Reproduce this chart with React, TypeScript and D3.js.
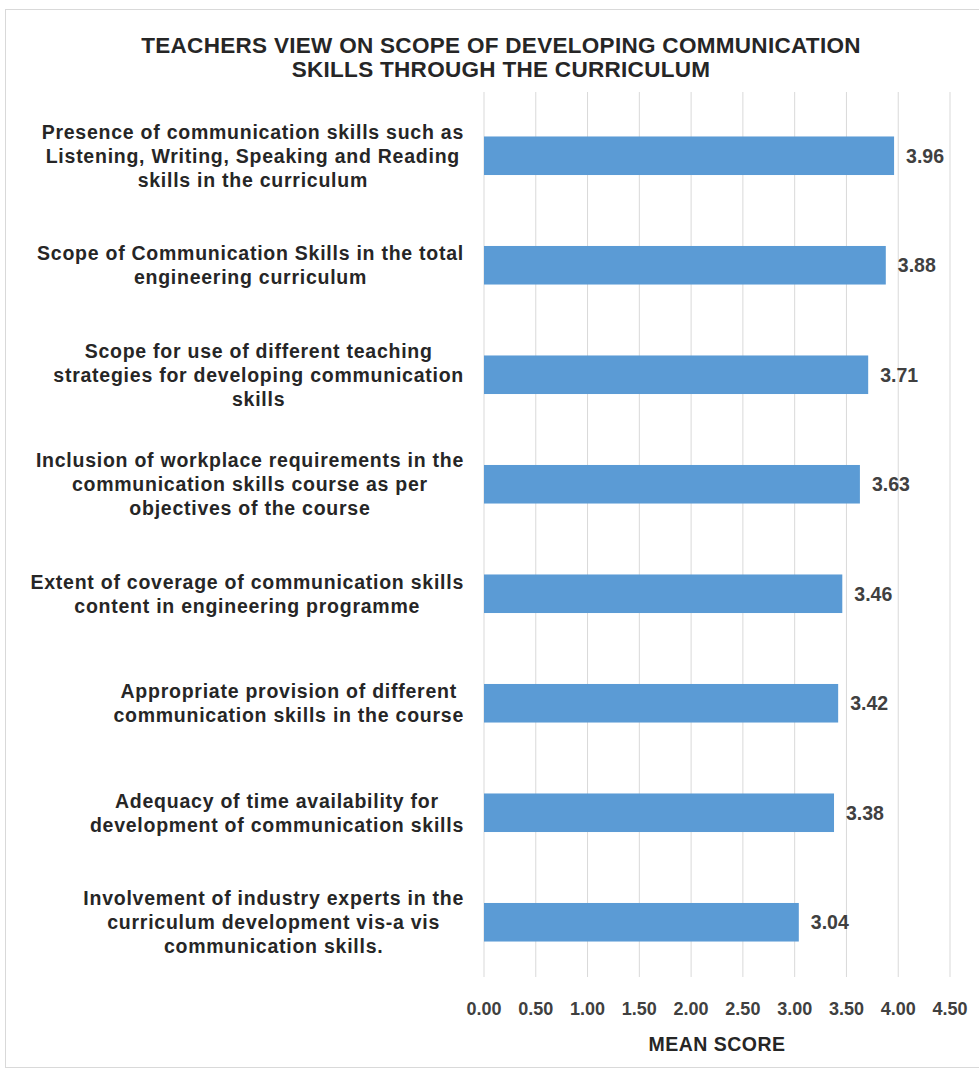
import { useEffect, useRef } from "react";
import * as d3 from "d3";

const W = 979;
const H = 1073;

const title = [
  "TEACHERS VIEW ON SCOPE OF DEVELOPING COMMUNICATION",
  "SKILLS THROUGH THE CURRICULUM",
];

// each category already split in the lines shown on the chart
const categories = [
  ["Presence of communication skills such as", "Listening, Writing, Speaking and Reading", "skills in the curriculum"],
  ["Scope of Communication Skills in the total", "engineering curriculum"],
  ["Scope for use of different teaching", "strategies for developing communication", "skills"],
  ["Inclusion of workplace requirements in the", "communication skills course as per", "objectives of the course"],
  ["Extent of coverage of communication skills", "content in engineering programme"],
  ["Appropriate provision of different", "communication skills in the course"],
  ["Adequacy of time availability for", "development of communication skills"],
  ["Involvement of industry experts in the", "curriculum development vis-a vis", "communication skills."],
];

const meanScores = [3.96, 3.88, 3.71, 3.63, 3.46, 3.42, 3.38, 3.04];

const xTicks = [0, 0.5, 1, 1.5, 2, 2.5, 3, 3.5, 4, 4.5];

const axisTitle = "MEAN SCORE";

const font = "'Liberation Sans', Arial, sans-serif";

const App = () => {
  const ref = useRef<SVGSVGElement>(null);

  useEffect(() => {
    const svg = d3.select(ref.current);
    svg.selectAll("*").remove();

    const keys = categories.map((_, i) => String(i));

    const x = d3.scaleLinear().domain([0, 4.5]).range([484, 950]);
    const y = d3
      .scaleBand()
      .domain(keys)
      .range([101, 977])
      .paddingInner(0.648)
      .paddingOuter(0.324);

    // frame
    svg.append("rect")
      .attr("x", 5.5)
      .attr("y", 9.5)
      .attr("width", W - 5)
      .attr("height", 1058)
      .attr("fill", "#fff")
      .attr("stroke", "#d9d9d9");

    // title
    svg.append("g")
      .selectAll("text")
      .data(title)
      .join("text")
      .attr("x", 501)
      .attr("y", (_, i) => 53 + i * 24)
      .attr("text-anchor", "middle")
      .attr("font-family", font)
      .attr("font-weight", "bold")
      .attr("font-size", 22.5)
      .attr("letter-spacing", 0.3)
      .attr("fill", "#262626")
      .text(d => d);

    // vertical gridlines
    svg.append("g")
      .selectAll("line")
      .data(xTicks)
      .join("line")
      .attr("x1", d => x(d))
      .attr("x2", d => x(d))
      .attr("y1", 92)
      .attr("y2", 977)
      .attr("stroke", "#d9d9d9")
      .attr("stroke-width", 1);

    // bars
    svg.append("g")
      .selectAll("rect")
      .data(meanScores)
      .join("rect")
      .attr("x", x(0))
      .attr("y", (_, i) => y(keys[i]) as number)
      .attr("width", d => x(d) - x(0))
      .attr("height", y.bandwidth())
      .attr("fill", "#5b9bd5");

    // value labels
    svg.append("g")
      .selectAll("text")
      .data(meanScores)
      .join("text")
      .attr("x", d => x(d) + 12)
      .attr("y", (_, i) => (y(keys[i]) as number) + y.bandwidth() / 2)
      .attr("dy", "0.35em")
      .attr("font-family", font)
      .attr("font-weight", "bold")
      .attr("font-size", 19.5)
      .attr("fill", "#404040")
      .text(d => d.toFixed(2));

    // category labels: lines centred inside a block that is right aligned
    const labelRight = 464;
    const lineH = 24;
    const catG = svg.append("g");
    categories.forEach((lines, i) => {
      const cy = (y(keys[i]) as number) + y.bandwidth() / 2;
      const g = catG.append("g");
      const texts = g.selectAll("text")
        .data(lines)
        .join("text")
        .attr("y", (_, j) => cy + (j - (lines.length - 1) / 2) * lineH)
        .attr("dy", "0.35em")
        .attr("text-anchor", "middle")
        .attr("font-family", font)
        .attr("font-weight", "bold")
        .attr("font-size", 19.5)
        .attr("letter-spacing", 0.75)
        .attr("fill", "#262626")
        .text(d => d);
      let maxW = 0;
      texts.each(function () {
        maxW = Math.max(maxW, (this as SVGTextElement).getComputedTextLength());
      });
      texts.attr("x", labelRight - maxW / 2);
    });

    // x tick labels
    svg.append("g")
      .selectAll("text")
      .data(xTicks)
      .join("text")
      .attr("x", d => x(d))
      .attr("y", 1015)
      .attr("text-anchor", "middle")
      .attr("font-family", font)
      .attr("font-weight", "bold")
      .attr("font-size", 18)
      .attr("fill", "#404040")
      .text(d => d.toFixed(2));

    // axis title
    svg.append("text")
      .attr("x", (x(0) + x(4.5)) / 2)
      .attr("y", 1051)
      .attr("text-anchor", "middle")
      .attr("font-family", font)
      .attr("font-weight", "bold")
      .attr("font-size", 19.5)
      .attr("letter-spacing", 0.5)
      .attr("fill", "#262626")
      .text(axisTitle);
  }, []);

  return (
    <svg
      ref={ref}
      width={W}
      height={H}
      style={{ position: "absolute", left: 0, top: 0, background: "#fff" }}
    />
  );
};

export default App;
